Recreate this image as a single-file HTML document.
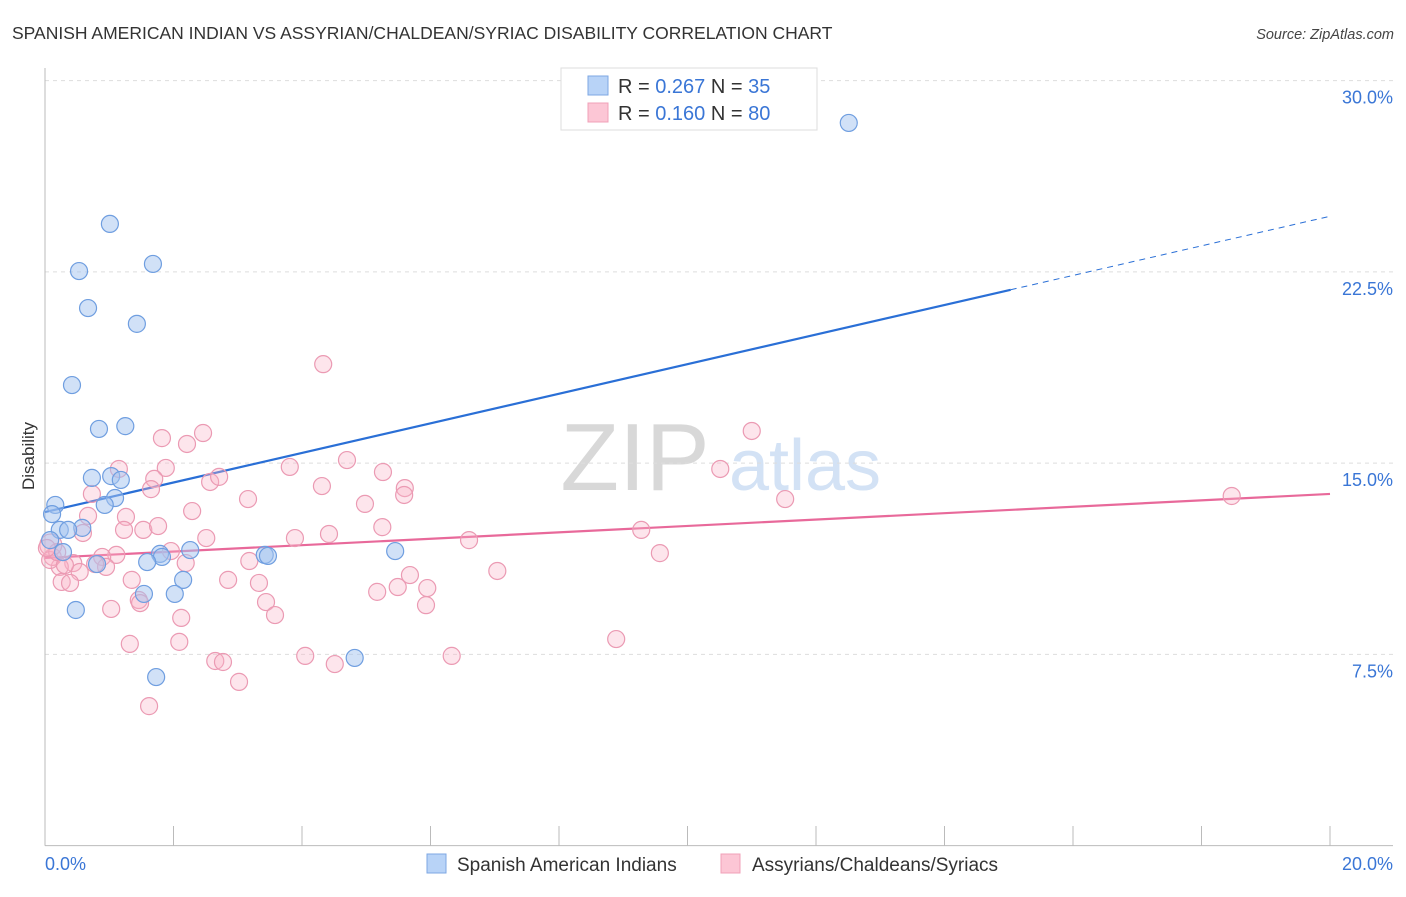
<!DOCTYPE html>
<html><head><meta charset="utf-8"><style>
body{margin:0;background:#fff;font-family:"Liberation Sans",sans-serif;}
svg text{font-family:"Liberation Sans",sans-serif;}
</style></head><body>
<svg id="chart" width="1406" height="892" xmlns="http://www.w3.org/2000/svg">
<text x="12" y="39" font-size="17.5" fill="#333">SPANISH AMERICAN INDIAN VS ASSYRIAN/CHALDEAN/SYRIAC DISABILITY CORRELATION CHART</text>
<text x="1394" y="39" font-size="14.5" fill="#444" font-style="italic" text-anchor="end">Source: ZipAtlas.com</text>
<g>
<text x="635" y="490" font-size="96" fill="#d8d8d8" font-family="Liberation Serif, serif" text-anchor="middle">ZIP</text>
<text x="805" y="490" font-size="72" fill="#d3e2f5" text-anchor="middle">atlas</text>
</g>
<g id="grid"></g>
<g id="axes"></g>
<g id="trend"></g>
<g id="pts"></g>
<text transform="translate(34,456) rotate(-90)" font-size="17" fill="#333" text-anchor="middle">Disability</text>
<g>
<rect x="561" y="68" width="256" height="62" fill="#fff" stroke="#ddd"/>
<rect x="588" y="76" width="20" height="19" fill="#b8d3f7" stroke="#7ea7e3"/>
<rect x="588" y="103" width="20" height="19" fill="#fcc6d5" stroke="#f0a0b8"/>
<text x="618" y="93" font-size="20" fill="#333">R = <tspan fill="#3a76d6">0.267</tspan>   N =  <tspan fill="#3a76d6">35</tspan></text>
<text x="618" y="120" font-size="20" fill="#333">R = <tspan fill="#3a76d6">0.160</tspan>   N = <tspan fill="#3a76d6">80</tspan></text>
</g>
<g>
<rect x="427" y="854" width="19" height="19" fill="#b8d3f7" stroke="#7ea7e3"/>
<text x="457" y="871" font-size="19" fill="#333">Spanish American Indians</text>
<rect x="721" y="854" width="19" height="19" fill="#fcc6d5" stroke="#f0a0b8"/>
<text x="752" y="871" font-size="19" fill="#333">Assyrians/Chaldeans/Syriacs</text>
</g>
</svg>
<script>
const blueX=[12.51,1.01,0.53,1.68,0.67,1.43,0.42,0.84,1.25,0.73,1.03,1.18,1.09,0.93,0.16,0.11,0.23,0.58,0.36,0.08,0.28,2.26,1.79,1.82,1.59,3.42,3.47,5.45,0.81,2.15,1.54,2.02,0.48,4.82,1.73];
const blueY=[28.34,24.38,22.53,22.81,21.08,20.46,18.06,16.34,16.45,14.42,14.49,14.34,13.63,13.36,13.36,13.00,12.38,12.46,12.38,11.98,11.51,11.59,11.44,11.32,11.12,11.40,11.36,11.55,11.04,10.42,9.87,9.87,9.24,7.36,6.61];
const pinkX=[1.82,2.21,2.46,1.15,1.88,1.70,1.65,0.73,0.67,1.26,1.23,1.53,1.76,0.59,2.57,2.71,3.81,4.70,5.26,5.60,5.59,4.31,3.16,4.98,2.29,5.25,4.42,3.89,2.51,1.96,1.11,0.89,0.95,2.19,3.18,0.44,0.54,0.23,0.12,0.26,0.39,1.35,2.85,3.33,5.17,5.49,5.68,5.95,5.93,3.44,3.58,1.46,1.48,1.03,2.12,2.09,1.32,2.65,2.77,4.05,4.51,6.33,3.02,1.62,4.33,11.00,10.51,11.52,18.47,9.28,9.57,7.04,6.60,8.89,0.09,0.08,0.19,0.31,0.03,0.78];
const pinkY=[15.98,15.75,16.18,14.77,14.81,14.38,13.98,13.79,12.93,12.89,12.38,12.38,12.53,12.26,14.26,14.46,14.85,15.12,14.65,14.02,13.75,14.10,13.59,13.40,13.12,12.49,12.22,12.06,12.06,11.55,11.40,11.32,10.93,11.08,11.16,11.08,10.73,10.93,11.32,10.34,10.30,10.42,10.42,10.30,9.95,10.14,10.61,10.10,9.43,9.55,9.04,9.63,9.51,9.28,8.93,7.99,7.91,7.24,7.20,7.44,7.12,7.44,6.42,5.47,18.88,16.26,14.77,13.59,13.71,12.38,11.47,10.77,11.98,8.10,11.79,11.20,11.51,11.00,11.67,11.04];
const yTicks=[7.5,15,22.5,30];
const yTickLabels=["7.5%","15.0%","22.5%","30.0%"];
const xTicks=[0,2,4,6,8,10,12,14,16,18,20];
const blueTrend={b:13.08,m:0.58,solidEnd:15.03};
const pinkTrend={b:11.28,m:0.1255};
const NS="http://www.w3.org/2000/svg";
const sx=v=>45+v*64.25, sy=v=>845.6-v*25.5;
function mk(tag,attrs,parent){const e=document.createElementNS(NS,tag);for(const k in attrs)e.setAttribute(k,attrs[k]);parent.appendChild(e);return e;}
const grid=document.getElementById('grid'),axes=document.getElementById('axes'),trend=document.getElementById('trend'),pts=document.getElementById('pts');
yTicks.forEach((t,i)=>{
 const l=mk('line',{x1:45,x2:1393,y1:sy(t),y2:sy(t),stroke:'#ddd','stroke-dasharray':'4,4'},grid);
 
 
 const tx=mk('text',{x:1393,y:sy(t)+23,'font-size':18,fill:'#3a76d6','text-anchor':'end'},axes);
 tx.textContent=yTickLabels[i];
 
 
});
const ya=mk('line',{x1:45,x2:45,y1:68,y2:845.6,stroke:'#bbb'},axes);


const xa=mk('line',{x1:45,x2:1393,y1:845.6,y2:845.6,stroke:'#bbb'},axes);


xTicks.forEach(t=>{
 const l=mk('line',{x1:sx(t),x2:sx(t),y1:826,y2:845.6,stroke:'#bbb'},axes);
 
 
});
const xl0=mk('text',{x:45,y:870,'font-size':18,fill:'#3a76d6'},axes);xl0.textContent='0.0%';


const xl1=mk('text',{x:1393,y:870,'font-size':18,fill:'#3a76d6','text-anchor':'end'},axes);xl1.textContent='20.0%';


pinkX.forEach((x,i)=>{
 const c=mk('circle',{cx:sx(x),cy:sy(pinkY[i]),r:(i===74?11:8.5),fill:'rgba(248,180,200,0.35)',stroke:'#eb9ab3','stroke-width':1.2},pts);
 
 
});
blueX.forEach((x,i)=>{
 const c=mk('circle',{cx:sx(x),cy:sy(blueY[i]),r:8.5,fill:'rgba(164,196,240,0.5)',stroke:'#6f9ee0','stroke-width':1.2},pts);
 
 
});
const b1=mk('line',{x1:sx(0),y1:sy(blueTrend.b),x2:sx(blueTrend.solidEnd),y2:sy(blueTrend.b+blueTrend.m*blueTrend.solidEnd),stroke:'#2a6fd6','stroke-width':2.2},trend);


const b2=mk('line',{x1:sx(blueTrend.solidEnd),y1:sy(blueTrend.b+blueTrend.m*blueTrend.solidEnd),x2:sx(20),y2:sy(blueTrend.b+blueTrend.m*20),stroke:'#2a6fd6','stroke-width':1,'stroke-dasharray':'6,5'},trend);


const p1=mk('line',{x1:sx(0),y1:sy(pinkTrend.b),x2:sx(20),y2:sy(pinkTrend.b+pinkTrend.m*20),stroke:'#e8699a','stroke-width':2.2},trend);


</script>
</body></html>
